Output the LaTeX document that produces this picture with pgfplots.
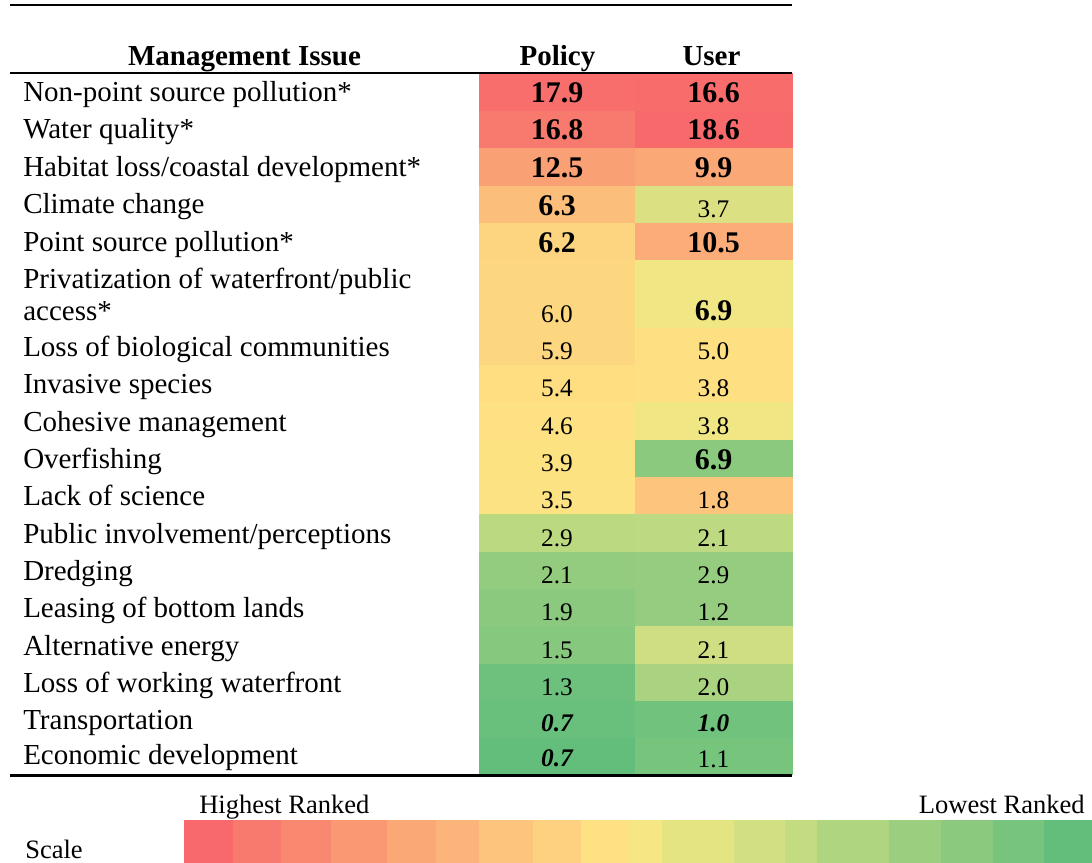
\documentclass[border=0pt]{standalone}
\usepackage{fontspec}
\setmainfont{Liberation Serif}
\usepackage{pgfplots}
\pgfplotsset{compat=1.18}
\usepgfplotslibrary{patchplots}
\pgfplotsset{colormap={rank}{
 rgb255=(248,105,107) rgb255=(248,121,110) rgb255=(249,136,113) rgb255=(250,152,116)
 rgb255=(251,168,119) rgb255=(251,180,121) rgb255=(252,196,124) rgb255=(253,209,127)
 rgb255=(254,225,130) rgb255=(246,231,132) rgb255=(228,228,131) rgb255=(210,223,130)
 rgb255=(195,219,129) rgb255=(175,213,128) rgb255=(155,206,127) rgb255=(138,201,126)
 rgb255=(119,196,125) rgb255=(99,190,123)}}
\newcommand\lab{\fontsize{21.75}{26}\selectfont}
\newcommand\sca{\fontsize{19.9}{24}\selectfont}
\begin{document}
\begin{tikzpicture}
\begin{axis}[
 width=819pt, height=647.25pt, scale only axis,
 xmin=0, xmax=1092, ymin=0, ymax=863, y dir=reverse,
 hide axis, clip=false,
 colormap name=rank, point meta min=0, point meta max=17,
 numtext/.style={only marks, mark=none, nodes near coords, point meta=explicit symbolic,
   every node near coord/.append style={anchor=base, inner sep=0pt, text=black, font=#1}},
]
% cells: x y rank-colour
\addplot[patch, patch type=rectangle, shader=flat corner, point meta=explicit]
 table[row sep=\\, meta=c] {
x y c\\
479 73 0.3\\ 635 73 0.3\\ 635 111 0.3\\ 479 111 0.3\\
479 111 1.0\\ 635 111 1.0\\ 635 148 1.0\\ 479 148 1.0\\
479 148 3.5\\ 635 148 3.5\\ 635 186 3.5\\ 479 186 3.5\\
479 186 5.6\\ 635 186 5.6\\ 635 223 5.6\\ 479 223 5.6\\
479 223 7.2\\ 635 223 7.2\\ 635 260 7.2\\ 479 260 7.2\\
479 260 7.3\\ 635 260 7.3\\ 635 328 7.3\\ 479 328 7.3\\
479 328 7.4\\ 635 328 7.4\\ 635 365 7.4\\ 479 365 7.4\\
479 365 7.8\\ 635 365 7.8\\ 635 402 7.8\\ 479 402 7.8\\
479 402 8.0\\ 635 402 8.0\\ 635 440 8.0\\ 479 440 8.0\\
479 440 8.1\\ 635 440 8.1\\ 635 477 8.1\\ 479 477 8.1\\
479 477 8.2\\ 635 477 8.2\\ 635 514 8.2\\ 479 514 8.2\\
479 514 12.4\\ 635 514 12.4\\ 635 552 12.4\\ 479 552 12.4\\
479 552 14.4\\ 635 552 14.4\\ 635 589 14.4\\ 479 589 14.4\\
479 589 15.0\\ 635 589 15.0\\ 635 626 15.0\\ 479 626 15.0\\
479 626 15.2\\ 635 626 15.2\\ 635 664 15.2\\ 479 664 15.2\\
479 664 16.5\\ 635 664 16.5\\ 635 701 16.5\\ 479 701 16.5\\
479 701 16.7\\ 635 701 16.7\\ 635 738 16.7\\ 479 738 16.7\\
479 738 17.0\\ 635 738 17.0\\ 635 774 17.0\\ 479 774 17.0\\
635 73 0.2\\ 792 73 0.2\\ 792 111 0.2\\ 635 111 0.2\\
635 111 0.0\\ 792 111 0.0\\ 792 148 0.0\\ 635 148 0.0\\
635 148 4.0\\ 792 148 4.0\\ 792 186 4.0\\ 635 186 4.0\\
635 186 10.5\\ 792 186 10.5\\ 792 223 10.5\\ 635 223 10.5\\
635 223 4.3\\ 792 223 4.3\\ 792 260 4.3\\ 635 260 4.3\\
635 260 9.3\\ 792 260 9.3\\ 792 328 9.3\\ 635 328 9.3\\
635 328 7.9\\ 792 328 7.9\\ 792 365 7.9\\ 635 365 7.9\\
635 365 7.9\\ 792 365 7.9\\ 792 402 7.9\\ 635 402 7.9\\
635 402 9.3\\ 792 402 9.3\\ 792 440 9.3\\ 635 440 9.3\\
635 440 15.0\\ 792 440 15.0\\ 792 477 15.0\\ 635 477 15.0\\
635 477 6.0\\ 792 477 6.0\\ 792 514 6.0\\ 635 514 6.0\\
635 514 12.3\\ 792 514 12.3\\ 792 552 12.3\\ 635 552 12.3\\
635 552 14.3\\ 792 552 14.3\\ 792 589 14.3\\ 635 589 14.3\\
635 589 14.3\\ 792 589 14.3\\ 792 626 14.3\\ 635 626 14.3\\
635 626 11.2\\ 792 626 11.2\\ 792 664 11.2\\ 635 664 11.2\\
635 664 13.3\\ 792 664 13.3\\ 792 701 13.3\\ 635 701 13.3\\
635 701 16.3\\ 792 701 16.3\\ 792 738 16.3\\ 635 738 16.3\\
635 738 16.0\\ 792 738 16.0\\ 792 774 16.0\\ 635 774 16.0\\
184 820 0\\ 233 820 0\\ 233 863 0\\ 184 863 0\\
233 820 1\\ 281 820 1\\ 281 863 1\\ 233 863 1\\
281 820 2\\ 331 820 2\\ 331 863 2\\ 281 863 2\\
331 820 3\\ 387 820 3\\ 387 863 3\\ 331 863 3\\
387 820 4\\ 436 820 4\\ 436 863 4\\ 387 863 4\\
436 820 5\\ 479 820 5\\ 479 863 5\\ 436 863 5\\
479 820 6\\ 533 820 6\\ 533 863 6\\ 479 863 6\\
533 820 7\\ 581 820 7\\ 581 863 7\\ 533 863 7\\
581 820 8\\ 630 820 8\\ 630 863 8\\ 581 863 8\\
630 820 9\\ 662 820 9\\ 662 863 9\\ 630 863 9\\
662 820 10\\ 734 820 10\\ 734 863 10\\ 662 863 10\\
734 820 11\\ 785 820 11\\ 785 863 11\\ 734 863 11\\
785 820 12\\ 817 820 12\\ 817 863 12\\ 785 863 12\\
817 820 13\\ 889 820 13\\ 889 863 13\\ 817 863 13\\
889 820 14\\ 941 820 14\\ 941 863 14\\ 889 863 14\\
941 820 15\\ 993 820 15\\ 993 863 15\\ 941 863 15\\
993 820 16\\ 1044 820 16\\ 1044 863 16\\ 993 863 16\\
1044 820 17\\ 1092 820 17\\ 1092 863 17\\ 1044 863 17\\
};
% Policy values
\addplot[numtext={\fontsize{22.5}{27}\selectfont\bfseries}] coordinates {
 (557,103) [17.9] (557,140) [16.8] (557,178) [12.5] (557,215) [6.3] (557,252) [6.2]};
\addplot[numtext={\fontsize{19}{23}\selectfont}] coordinates {
 (557,322) [6.0] (557,359) [5.9] (557,396) [5.4] (557,434) [4.6] (557,471) [3.9]
 (557,508) [3.5] (557,546) [2.9] (557,583) [2.1] (557,620) [1.9] (557,658) [1.5]
 (557,695) [1.3]};
\addplot[numtext={\fontsize{19}{23}\selectfont\bfseries\itshape}] coordinates {
 (557,731) [0.7] (557,766) [0.7]};
% User values
\addplot[numtext={\fontsize{22.5}{27}\selectfont\bfseries}] coordinates {
 (713.5,103) [16.6] (713.5,140) [18.6] (713.5,178) [9.9] (713.5,252) [10.5]
 (713.5,320) [6.9] (713.5,469) [6.9]};
\addplot[numtext={\fontsize{19}{23}\selectfont}] coordinates {
 (713.5,217) [3.7] (713.5,359) [5.0] (713.5,396) [3.8] (713.5,434) [3.8]
 (713.5,508) [1.8] (713.5,546) [2.1] (713.5,583) [2.9] (713.5,620) [1.2]
 (713.5,658) [2.1] (713.5,695) [2.0] (713.5,767) [1.1]};
\addplot[numtext={\fontsize{19}{23}\selectfont\bfseries\itshape}] coordinates {
 (713.5,731) [1.0]};
% rules
\draw[line width=2pt] (axis cs:10,5) -- (axis cs:792,5);
\draw[line width=2pt] (axis cs:10,73) -- (axis cs:792,73);
\draw[line width=2pt] (axis cs:10,775.5) -- (axis cs:792,775.5);
% headers
\node[anchor=base, inner sep=0pt, font=\lab\bfseries] at (axis cs:244.5,66) {Management Issue};
\node[anchor=base, inner sep=0pt, font=\lab\bfseries] at (axis cs:557.5,66) {Policy};
\node[anchor=base, inner sep=0pt, font=\lab\bfseries] at (axis cs:711.5,66) {User};
% row labels
\begin{scope}[every node/.style={anchor=base west, inner sep=0pt, font=\lab}]
\node at (axis cs:23,102) {Non-point source pollution*};
\node at (axis cs:23,139) {Water quality*};
\node at (axis cs:23,177) {Habitat loss/coastal development*};
\node at (axis cs:23,214) {Climate change};
\node at (axis cs:23,251) {Point source pollution*};
\node at (axis cs:23,288) {Privatization of waterfront/public};
\node at (axis cs:23,320) {access*};
\node at (axis cs:23,356) {Loss of biological communities};
\node at (axis cs:23,393) {Invasive species};
\node at (axis cs:23,431) {Cohesive management};
\node at (axis cs:23,468) {Overfishing};
\node at (axis cs:23,505) {Lack of science};
\node at (axis cs:23,543) {Public involvement/perceptions};
\node at (axis cs:23,580) {Dredging};
\node at (axis cs:23,617) {Leasing of bottom lands};
\node at (axis cs:23,655) {Alternative energy};
\node at (axis cs:23,692) {Loss of working waterfront};
\node at (axis cs:23,729) {Transportation};
\node at (axis cs:23,764) {Economic development};
\end{scope}
% scale texts
\node[anchor=base west, inner sep=0pt, font=\sca] at (axis cs:199,813) {Highest Ranked};
\node[anchor=base east, inner sep=0pt, font=\sca] at (axis cs:1085,813) {Lowest Ranked};
\node[anchor=base west, inner sep=0pt, font=\sca] at (axis cs:25,858) {Scale};
\path (axis cs:0,0) rectangle (axis cs:1092,863);
\end{axis}
\end{tikzpicture}
\end{document}
